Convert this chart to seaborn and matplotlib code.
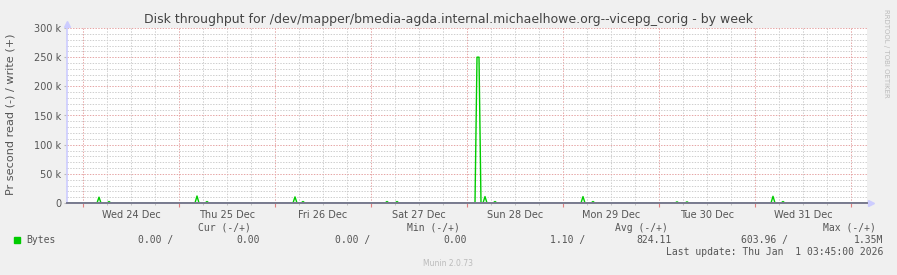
import numpy as np
import pandas as pd
import matplotlib
matplotlib.use("Agg")
import matplotlib.pyplot as plt
import seaborn as sns
from matplotlib.ticker import FixedLocator

# ---------------- data ----------------
# hours since Tue 23 Dec 20:00 (left edge of plot), 30-minute samples
spike_hours = [8.0, 10.5, 32.5, 35.0, 57.0, 59.0, 80.0, 82.5,
               102.5, 103.0, 104.5, 107.0, 129.0, 131.5,
               152.5, 155.0, 176.5, 179.0]
spike_values = [10000, 2500, 12000, 2500, 10500, 2500, 2500, 2500,
                250000, 250000, 11000, 2500, 11000, 2500,
                2000, 2000, 11500, 2500]
day_labels = ["Wed 24 Dec", "Thu 25 Dec", "Fri 26 Dec", "Sat 27 Dec",
              "Sun 28 Dec", "Mon 29 Dec", "Tue 30 Dec", "Wed 31 Dec"]
y_ticks = [0, 50000, 100000, 150000, 200000, 250000, 300000]
y_tick_labels = ["0", "50 k", "100 k", "150 k", "200 k", "250 k", "300 k"]
legend_headers = ["Cur (-/+)", "Min (-/+)", "Avg (-/+)", "Max (-/+)"]
legend_values = ["0.00 /", "0.00", "0.00 /", "0.00",
                 "1.10 /", "824.11", "603.96 /", "1.35M"]

span_hours = 200.0
sample_step = 0.5
first_midnight = 4.0

hours = np.arange(0, span_hours + sample_step, sample_step)
write = np.zeros_like(hours)
for h, v in zip(spike_hours, spike_values):
    write[int(round(h / sample_step))] = v
df = pd.DataFrame({"hours": hours, "write": write})

# ---------------- figure ----------------
W, H = 897, 275
fig = plt.figure(figsize=(W / 100, H / 100), dpi=100)
fig.patch.set_facecolor("#F0F0F0")
ax = fig.add_axes([67 / W, 72 / H, 800 / W, 175 / H])
ax.set_facecolor("white")

sns.lineplot(data=df, x="hours", y="write", ax=ax, color="#00CC00",
             linewidth=1.0, zorder=5)

ax.set_xlim(0, span_hours)
ax.set_ylim(0, 300000)

midnights = [first_midnight + 24 * i for i in range(9)]
noons = [first_midnight + 12 + 24 * i for i in range(8)]
six_h = [first_midnight - 6 + 6 * i for i in range(40)
         if 0 < first_midnight - 6 + 6 * i < span_hours]

ax.xaxis.set_major_locator(FixedLocator(midnights))
ax.xaxis.set_minor_locator(FixedLocator(six_h))
ax.set_xticklabels([])
ax.yaxis.set_major_locator(FixedLocator(y_ticks))
ax.set_yticklabels(y_tick_labels)
ax.yaxis.set_minor_locator(FixedLocator(list(range(0, 300001, 10000))))

dots = (0, (1.4, 1.4))
ax.grid(which="minor", color="#CFCFCF", linestyle=dots, linewidth=0.72)
ax.grid(which="major", color="#E6A6A6", linestyle=dots, linewidth=0.72)
ax.set_axisbelow(True)

ax.tick_params(axis="x", which="major", length=3, color="#E08080", labelbottom=False)
ax.tick_params(axis="x", which="minor", length=1.5, color="#BBBBBB")
ax.tick_params(axis="y", which="major", length=2, color="#BBBBBB",
               labelsize=7, labelcolor="#555555", pad=2)
ax.tick_params(axis="y", which="minor", length=1, color="#CCCCCC")

for x, lab in zip(noons, day_labels):
    ax.text(x, -0.07, lab, transform=ax.get_xaxis_transform(), ha="center",
            va="center", fontsize=7, color="#555555")

for s in ["top", "right"]:
    ax.spines[s].set_visible(False)
ax.spines["left"].set_color("#CCCCFF")
ax.spines["left"].set_linewidth(1.2)
ax.spines["bottom"].set_color("#7A7A90")
ax.spines["bottom"].set_linewidth(1.4)
ax.spines["bottom"].set_zorder(7)
ax.set_xlabel("")
ax.set_ylabel("")

# axis arrows
ax.plot([1.005], [0], marker=">", markersize=5, color="#CCCCFF",
        transform=ax.transAxes, clip_on=False)
ax.plot([0], [1.025], marker="^", markersize=5, color="#CCCCFF",
        transform=ax.transAxes, clip_on=False)

def fx(px):
    return px / W

def fy(py):
    return 1 - py / H

fig.text(fx(448), fy(19), "Disk throughput for /dev/mapper/bmedia-agda.internal.michaelhowe.org--vicepg_corig - by week",
         ha="center", va="center", fontsize=9.0, color="#444444")
fig.text(fx(11), fy(114), "Pr second read (-) / write (+)", rotation=90,
         ha="center", va="center", fontsize=8.1, color="#555555")
fig.text(fx(886), fy(53), "RRDTOOL / TOBI OETIKER", rotation=270,
         ha="center", va="center", fontsize=5, color="#BBBBBB")

mono = "DejaVu Sans Mono"
header_right = [251, 460, 668, 876]
for x, t in zip(header_right, legend_headers):
    fig.text(fx(x), fy(228), t, ha="right", va="center", family=mono,
             fontsize=7, color="#555555")

fig.patches.append(matplotlib.patches.Rectangle((fx(14), fy(243)), 6 / W, 6 / H,
                                                transform=fig.transFigure,
                                                color="#00CC00", figure=fig))
fig.text(fx(26), fy(240), "Bytes", ha="left", va="center", family=mono,
         fontsize=7, color="#555555")
value_right = [173, 260, 370, 467, 585, 672, 788, 883]
for x, t in zip(value_right, legend_values):
    fig.text(fx(x), fy(240), t, ha="right", va="center", family=mono,
             fontsize=7, color="#555555")

fig.text(fx(883), fy(252), "Last update: Thu Jan  1 03:45:00 2026", ha="right",
         va="center", family=mono, fontsize=7, color="#555555")
fig.text(fx(448), fy(263), "Munin 2.0.73", ha="center", va="center",
         fontsize=5.5, color="#BBBBBB")

fig.savefig("out.png", dpi=100, facecolor=fig.get_facecolor())
